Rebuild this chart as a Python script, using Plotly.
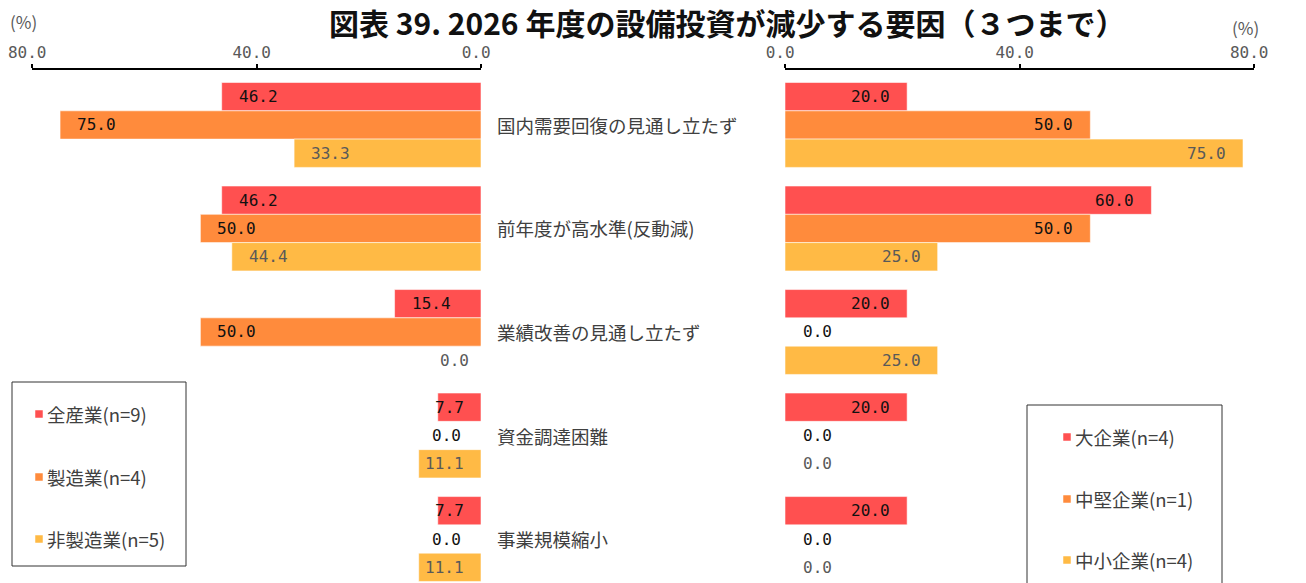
import plotly.graph_objects as go

# ---- data ----
categories = [
    "国内需要回復の見通し立たず",
    "前年度が高水準(反動減)",
    "業績改善の見通し立たず",
    "資金調達困難",
    "事業規模縮小",
]

# by industry (left panel)
industry_names = ["全産業(n=9)", "製造業(n=4)", "非製造業(n=5)"]
all_industries = [46.2, 46.2, 15.4, 7.7, 7.7]
manufacturing = [75.0, 50.0, 50.0, 0.0, 0.0]
non_manufacturing = [33.3, 44.4, 0.0, 11.1, 11.1]

# by company size (right panel)
size_names = ["大企業(n=4)", "中堅企業(n=1)", "中小企業(n=4)"]
large = [20.0, 60.0, 20.0, 20.0, 20.0]
midsize = [50.0, 50.0, 0.0, 0.0, 0.0]
small = [75.0, 25.0, 25.0, 0.0, 0.0]

tick_values = [0, 40, 80]
tick_labels = ["0.0", "40.0", "80.0"]

title_text = "図表 39. 2026 年度の設備投資が減少する要因（３つまで）"

# ---- styling ----
W, H = 1306, 583
COLORS = ["#FF5050", "#FF8B3C", "#FFBA45"]
LABEL_COLORS = ["#111111", "#111111", "#595959"]
NUM_FONT = "DejaVu Sans Mono"
JP_FONT = "Noto Sans CJK JP"
BARGAP = 0.18
SHORT_BAR = 12.5  # bars shorter than this keep their label at the base


def px(x):
    return x / W


def py(y):
    return 1 - y / H


left_series = [all_industries, manufacturing, non_manufacturing]
right_series = [large, midsize, small]
ypos = list(range(len(categories)))

fig = go.Figure()

for k, (vals, name) in enumerate(zip(left_series, industry_names)):
    fig.add_trace(go.Bar(
        x=vals, y=ypos, orientation="h", name=name,
        marker=dict(color=COLORS[k], line=dict(color="rgba(255,255,255,0.55)", width=1)),
        xaxis="x", yaxis="y", showlegend=False, hoverinfo="x+name",
    ))

for k, (vals, name) in enumerate(zip(right_series, size_names)):
    fig.add_trace(go.Bar(
        x=vals, y=ypos, orientation="h", name=name,
        marker=dict(color=COLORS[k], line=dict(color="rgba(255,255,255,0.55)", width=1)),
        xaxis="x2", yaxis="y2", showlegend=False, hoverinfo="x+name",
    ))

# empty trace that carries the visible scale of the right panel
fig.add_trace(go.Scatter(x=[None], y=[None], xaxis="x3", yaxis="y2",
                         showlegend=False, hoverinfo="skip"))

annotations = []
bar_w = (1 - BARGAP) / 3

# value labels
for k, vals in enumerate(left_series):
    for i, v in enumerate(vals):
        yv = i + (k - 1) * bar_w
        if v > SHORT_BAR:
            xa, xanchor, shift = v, "left", 15
        elif v > 0:
            xa, xanchor, shift = 0, "right", -15
        else:
            xa, xanchor, shift = 0, "right", (-18 if k == 1 else -10)
        annotations.append(dict(
            x=xa, y=yv, xref="x", yref="y", text=f"{v:.1f}", showarrow=False,
            xanchor=xanchor, yanchor="middle", xshift=shift,
            font=dict(family=NUM_FONT, size=16, color=LABEL_COLORS[k]),
        ))

for k, vals in enumerate(right_series):
    for i, v in enumerate(vals):
        yv = i + (k - 1) * bar_w
        if v > 0:
            xa, xanchor, shift = v, "right", -15
        else:
            xa, xanchor, shift = 0, "left", 16
        annotations.append(dict(
            x=xa, y=yv, xref="x2", yref="y2", text=f"{v:.1f}", showarrow=False,
            xanchor=xanchor, yanchor="middle", xshift=shift,
            font=dict(family=NUM_FONT, size=16, color=LABEL_COLORS[k]),
        ))

# category labels between the panels
for i, c in enumerate(categories):
    annotations.append(dict(
        x=px(495), y=i, xref="paper", yref="y", text=c, showarrow=False,
        xanchor="left", yanchor="middle",
        font=dict(family=JP_FONT, size=18.5, color="#404040"),
    ))

# title and unit labels
annotations.append(dict(
    x=px(727), y=py(22), xref="paper", yref="paper", text=f"<b>{title_text}</b>",
    showarrow=False, xanchor="center", yanchor="middle",
    font=dict(family=JP_FONT, size=30, color="#111111"),
))
annotations.append(dict(
    x=px(23), y=py(22), xref="paper", yref="paper", text="(%)", showarrow=False,
    xanchor="center", yanchor="middle", font=dict(family=JP_FONT, size=17, color="#595959"),
))
annotations.append(dict(
    x=px(1245), y=py(28), xref="paper", yref="paper", text="(%)", showarrow=False,
    xanchor="center", yanchor="middle", font=dict(family=JP_FONT, size=17, color="#595959"),
))

# legend boxes
shapes = [
    dict(type="rect", xref="paper", yref="paper", x0=px(12), x1=px(186), y0=py(382), y1=py(566),
         line=dict(color="#333333", width=1), fillcolor="rgba(0,0,0,0)"),
    dict(type="rect", xref="paper", yref="paper", x0=px(1027), x1=px(1222), y0=py(405), y1=py(600),
         line=dict(color="#333333", width=1), fillcolor="rgba(0,0,0,0)"),
]


def legend_items(names, x_sq, ys):
    for k, (name, yc) in enumerate(zip(names, ys)):
        shapes.append(dict(
            type="rect", xref="paper", yref="paper",
            x0=px(x_sq), x1=px(x_sq + 8), y0=py(yc + 4), y1=py(yc - 4),
            line=dict(color="rgba(255,255,255,0.5)", width=1), fillcolor=COLORS[k],
        ))
        annotations.append(dict(
            x=px(x_sq + 10), y=py(yc), xref="paper", yref="paper", text=name,
            showarrow=False, xanchor="left", yanchor="middle",
            font=dict(family=JP_FONT, size=18.5, color="#404040"),
        ))


legend_items(industry_names, 35, [414, 477, 539])
legend_items(size_names, 1063, [437, 499, 560])

y_domain = [0, py(70)]
y_range = [4.425, -0.531]
scale_axis = dict(
    side="top", showline=True, linecolor="#000000", linewidth=2,
    ticks="outside", ticklen=4, tickwidth=1.5, tickcolor="#000000",
    tickvals=tick_values, ticktext=[t + "\u00a0" for t in tick_labels],
    tickfont=dict(family=NUM_FONT, size=16, color="#595959"),
    showgrid=False, zeroline=False, fixedrange=True, automargin=False,
)

fig.update_layout(
    width=W, height=H, autosize=False,
    margin=dict(l=0, r=0, t=0, b=0, pad=0, autoexpand=False),
    paper_bgcolor="white", plot_bgcolor="white",
    barmode="group", bargap=BARGAP, bargroupgap=0,
    showlegend=False,
    xaxis=dict(domain=[px(32), px(481)], range=[80, 0], anchor="y", **scale_axis),
    yaxis=dict(domain=y_domain, range=y_range, visible=False, fixedrange=True, automargin=False),
    xaxis2=dict(domain=[px(785), px(1254)], range=[0, 76.8], anchor="y2",
                visible=False, fixedrange=True, automargin=False),
    yaxis2=dict(domain=y_domain, range=y_range, visible=False, anchor="x2",
                fixedrange=True, automargin=False),
    xaxis3=dict(overlaying="x2", range=[0, 80], anchor="y2", **scale_axis),
    annotations=annotations,
    shapes=shapes,
)

fig.write_html("out.html")
